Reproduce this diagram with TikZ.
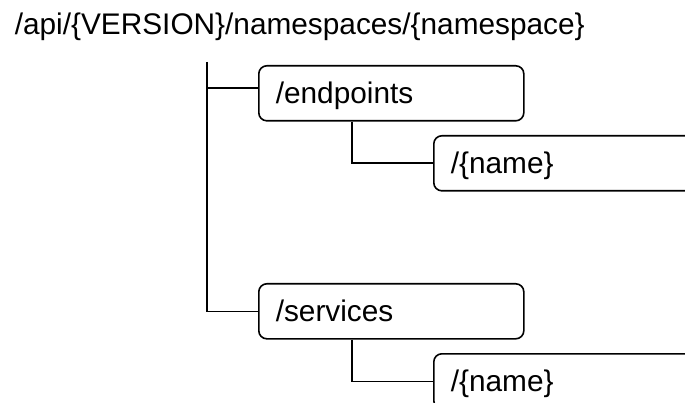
\documentclass[tikz,border=0pt]{standalone}
\usepackage{fontspec}
\setmainfont{Liberation Sans}
\begin{document}
\begin{tikzpicture}[x=1pt,y=-1pt,
  line width=1.6pt,
  box/.style={draw, rounded corners=8pt, anchor=north west,
    minimum height=55pt, inner xsep=17pt, inner ysep=0pt,
    text height=23pt, text depth=2pt, align=left,
    font=\fontsize{29.8}{35}\selectfont},
  wide/.style={minimum width=265pt, text width=231pt},
  wider/.style={minimum width=320pt, text width=286pt}]
\clip (0,0) rectangle (685,403);
\useasboundingbox (0,0) rectangle (685,403);
\node[anchor=base west, inner sep=0pt, font=\fontsize{29.8}{35}\selectfont] (title) at (14,35) {/api/\{VERSION\}/namespaces/\{namespace\}};
\node[box, wide] (ep) at (258,65) {/endpoints};
\node[box, wider] (n1) at (433,135) {/\{name\}};
\node[box, wide] (sv) at (258,283) {/services};
\node[box, wider] (n2) at (433,353) {/\{name\}};
\coordinate (top) at (207,62);
\coordinate (j1) at (207,88);
\draw (top) |- (sv.west);
\draw (j1) -- (j1 -| ep.west);
\coordinate (s1) at ([xshift=94pt]ep.south west);
\coordinate (s2) at ([xshift=94pt]sv.south west);
\draw (s1) |- (n1.west);
\draw (s2) |- (n2.west);
\end{tikzpicture}
\end{document}
